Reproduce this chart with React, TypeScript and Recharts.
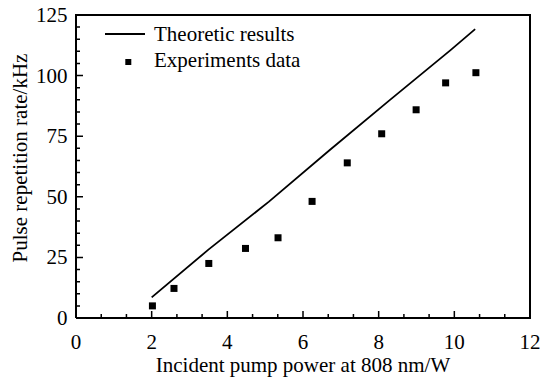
import React from "react";
import { ComposedChart, Line, XAxis, YAxis } from "recharts";

// values
const theoryX = [2, 3.5, 5.1, 6.7, 8.3, 9.9, 10.55];
const theoryY = [8.5, 28.2, 48, 69.2, 90, 110.5, 119.2];
const expX = [2.02, 2.59, 3.51, 4.48, 5.34, 6.24, 7.17, 8.08, 8.99, 9.77, 10.57];
const expY = [5.0, 12.2, 22.5, 28.7, 33.1, 48.1, 64.0, 76.0, 85.9, 97.0, 101.2];

const xMajorTicks = [0, 2, 4, 6, 8, 10, 12];
const xMinorTicks = [0.667, 1.333, 2.667, 3.333, 4.667, 5.333, 6.667, 7.333, 8.667, 9.333, 10.667, 11.333];
const yMajorTicks = [0, 25, 50, 75, 100, 125];
const yMinorTicks = [5, 10, 15, 20, 30, 35, 40, 45, 55, 60, 65, 70, 80, 85, 90, 95, 105, 110, 115, 120];
const xFrame = [0, 12, 12, 0, 0];
const yFrame = [0, 0, 125, 125, 0];

const FONT = "Liberation Serif, serif";
const FS = 21;

// plot box is 454 x 303 px, used to turn tick lengths (px) into axis units
const X_PER_PX = 12 / 454;
const Y_PER_PX = 125 / 303;
const tickLen = (major: boolean) => (major ? 7 : 4);

const theoryData = theoryX.map((x, i) => ({ x, y: theoryY[i] }));
const expData = expX.map((x, i) => ({ x, y: expY[i] }));
const frameData = xFrame.map((x, i) => ({ x, y: yFrame[i] }));
const xTicks = [...xMajorTicks, ...xMinorTicks].sort((a, b) => a - b);
const yTicks = [...yMajorTicks, ...yMinorTicks].sort((a, b) => a - b);

// inward tick marks as short segments, broken apart by null points
const xTickSegs = xTicks.flatMap((v) => {
  const len = tickLen(xMajorTicks.includes(v)) * Y_PER_PX;
  return [
    { x: v, y: 0 },
    { x: v, y: len },
    { x: v, y: null },
  ];
});
const yTickSegs = yTicks.flatMap((v) => {
  const len = tickLen(yMajorTicks.includes(v)) * X_PER_PX;
  return [
    { x: 0, y: v },
    { x: len, y: v },
    { x: len, y: null },
  ];
});

const XTick = (props: any) => {
  const { x, y, payload } = props;
  if (!xMajorTicks.includes(payload.value)) return <g />;
  return (
    <text x={x} y={y + 31} textAnchor="middle" fontFamily={FONT} fontSize={FS} fill="#000">
      {payload.value}
    </text>
  );
};

const YTick = (props: any) => {
  const { x, y, payload } = props;
  if (!yMajorTicks.includes(payload.value)) return <g />;
  return (
    <text x={x - 8.5} y={y + 7} textAnchor="end" fontFamily={FONT} fontSize={FS} fill="#000">
      {payload.value}
    </text>
  );
};

const Square = (props: any) => {
  const { cx, cy, index } = props;
  return <rect key={`sq-${index}`} x={cx - 3.5} y={cy - 3.5} width={7} height={7} fill="#000" />;
};

const XTitle = () => (
  <g fontFamily={FONT} fontSize={FS} fill="#000">
    <text x={303} y={372} textAnchor="middle">Incident pump power at 808 nm/W</text>
    <path d="M105,34H145" stroke="#000" strokeWidth={2} />
    <text x={154} y={40.5}>Theoretic results</text>
    <rect x={125.3} y={59} width={6} height={6} fill="#000" />
    <text x={154} y={66.5}>Experiments data</text>
  </g>
);

const YTitle = () => (
  <text x={27} y={158} transform="rotate(-90, 27, 158)" textAnchor="middle" fontFamily={FONT} fontSize={FS} fill="#000">
    Pulse repetition rate/kHz
  </text>
);

export default function App() {
  return (
    <div style={{ position: "absolute", left: 0, top: 0, width: 556, height: 377, background: "#fff" }}>
      <ComposedChart width={556} height={377} margin={{ top: 15, right: 26, bottom: 29, left: 16 }}>
        <XAxis
          dataKey="x"
          type="number"
          domain={[0, 12]}
          ticks={xTicks}
          interval={0}
          tickSize={0}
          tickMargin={0}
          tickLine={false}
          tick={XTick}
          axisLine={false}
          label={{ content: XTitle }}
        />
        <YAxis
          type="number"
          domain={[0, 125]}
          ticks={yTicks}
          interval={0}
          tickSize={0}
          tickMargin={0}
          tickLine={false}
          tick={YTick}
          width={60}
          axisLine={false}
          label={{ content: YTitle }}
        />
        <Line
          data={frameData}
          dataKey="y"
          type="linear"
          stroke="#000"
          strokeWidth={2}
          dot={false}
          activeDot={false}
          isAnimationActive={false}
        />
        <Line
          data={xTickSegs}
          dataKey="y"
          type="linear"
          stroke="#000"
          strokeWidth={1.5}
          dot={false}
          activeDot={false}
          isAnimationActive={false}
        />
        <Line
          data={yTickSegs}
          dataKey="y"
          type="linear"
          stroke="#000"
          strokeWidth={1.5}
          dot={false}
          activeDot={false}
          isAnimationActive={false}
        />
        <Line
          data={theoryData}
          dataKey="y"
          type="linear"
          stroke="#000"
          strokeWidth={1.8}
          dot={false}
          activeDot={false}
          isAnimationActive={false}
        />
        <Line
          data={expData}
          dataKey="y"
          stroke="none"
          dot={Square}
          activeDot={false}
          isAnimationActive={false}
        />
      </ComposedChart>
    </div>
  );
}
